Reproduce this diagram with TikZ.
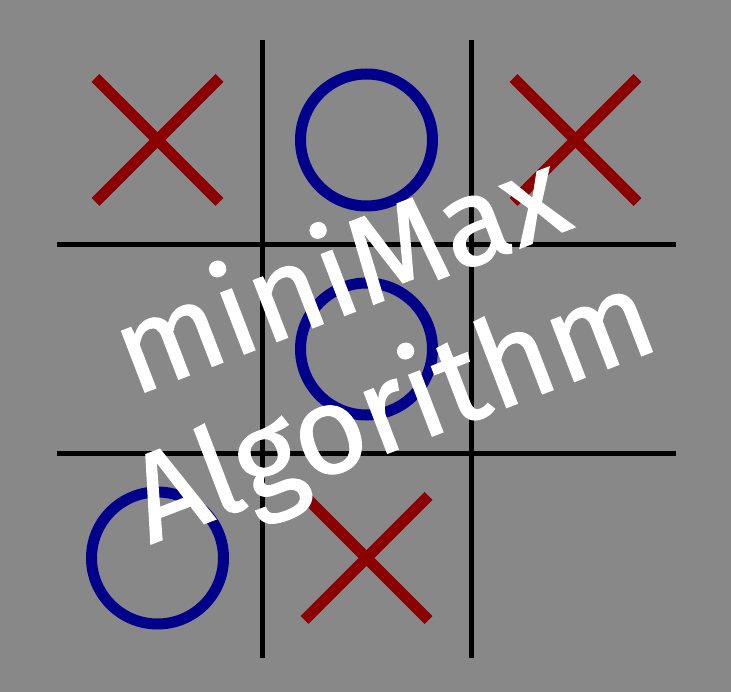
\documentclass[tikz,border=0pt]{standalone}
\usepackage{fontspec}
\setmainfont{Fira Sans}
\newfontfamily\bannerfont[FakeBold=1.0]{Fira Sans}
\definecolor{board}{HTML}{888888}
\definecolor{cross}{HTML}{8B0000}
\definecolor{nought}{HTML}{00008B}
\tikzset{gridline/.style={line width=5pt,black},
xmark/.style={line width=11pt,cross},
omark/.style={line width=11pt,nought},
banner/.style={text=white,font=\bannerfont\fontsize{124}{144}\selectfont,align=center,rotate=21}}
\begin{document}
\begin{tikzpicture}[x=1pt,y=-1pt]
\fill[board] (0,0) rectangle (731,692);
\useasboundingbox (0,0) rectangle (731,692);
% board lines
\foreach \p in {262,471}
\draw[gridline] (\p,40)--(\p,658);
\foreach \p in {244.5,453.5}
\draw[gridline] (57,\p)--(676,\p);
% crosses and noughts
\foreach \cx/\cy in {157.5/140,575.5/140,366.5/558}{
\draw[xmark] (\cx-62,\cy-62)--(\cx+62,\cy+62);
\draw[xmark] (\cx-62,\cy+62)--(\cx+62,\cy-62);}
\foreach \cx/\cy in {366.5/140,366.5/349,157.5/558}
\draw[omark] (\cx,\cy) circle (66);
\node[banner] (title) at (368,346) {miniMax\\Algorithm};
\end{tikzpicture}
\end{document}
